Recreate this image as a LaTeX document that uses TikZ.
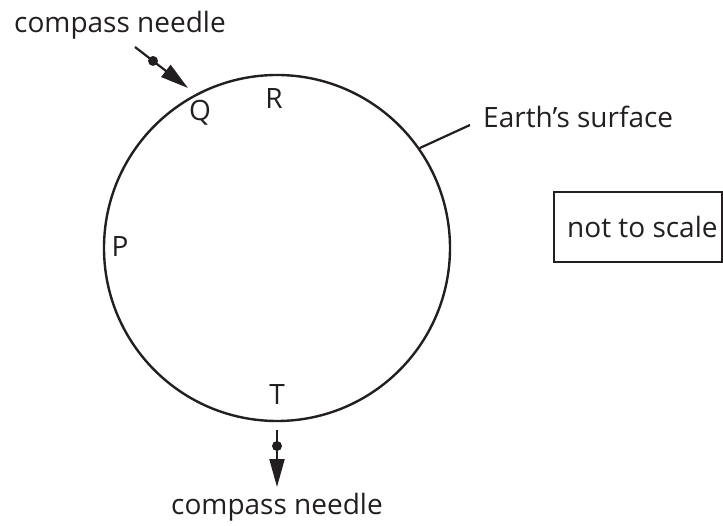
\documentclass[tikz,border=0pt]{standalone}
\usepackage{fontspec}
\setmainfont{Open Sans}
\usetikzlibrary{arrows.meta,calc}
\definecolor{ink}{HTML}{231F20}
\tikzset{
  lbl/.style={font=\fontsize{28}{33}\selectfont, inner sep=0pt, text=ink},
  earthline/.style={line width=2.4pt, draw=ink},
  needle/.style={line width=2.2pt, draw=ink, -{Triangle[length=28pt,width=15pt]}},
  pivot/.style={circle, fill=ink, inner sep=0pt, minimum size=10pt},
}
\begin{document}
\begin{tikzpicture}[x=1pt,y=-1pt]
\useasboundingbox (0,0) rectangle (723,526);
\node[earthline, circle, draw, minimum size=346pt, inner sep=0pt] (earth) at (277,248) {};
% labels on the circle
\node[lbl, anchor=base] (Q) at (200,121) {Q};
\node[lbl, anchor=base] (R) at (274,109) {R};
\node[lbl, anchor=base] (P) at (120,257) {P};
\node[lbl, anchor=base] (T) at (277,405) {T};
% top needle
\node[lbl, anchor=base] (topcap) at (120,33) {compass needle};
\coordinate (n1s) at (135,47);
\coordinate (n1e) at (188,88);
\draw[needle] (n1s) -- (n1e);
\node[pivot] (d1) at ($(n1s)!0.34!(n1e)$) {};
% bottom needle
\coordinate (n2s) at (277,430);
\coordinate (n2e) at (277,487);
\draw[needle] (n2s) -- (n2e);
\node[pivot] (d2) at (277,446) {};
\node[lbl, anchor=base] (botcap) at (277,514) {compass needle};
% surface label
\node[lbl, anchor=base west] (surf) at (483,128) {Earth’s surface};
\coordinate (le) at (470,125);
\draw[line width=2.2pt, draw=ink] (earth.35) -- (le);
% box
\coordinate (bxa) at (554,192);
\coordinate (bxb) at (721.5,262);
\draw[line width=2pt, draw=ink] (bxa) rectangle (bxb);
\node[lbl, anchor=base west] (box) at (567,238) {not to scale};
\end{tikzpicture}
\end{document}
